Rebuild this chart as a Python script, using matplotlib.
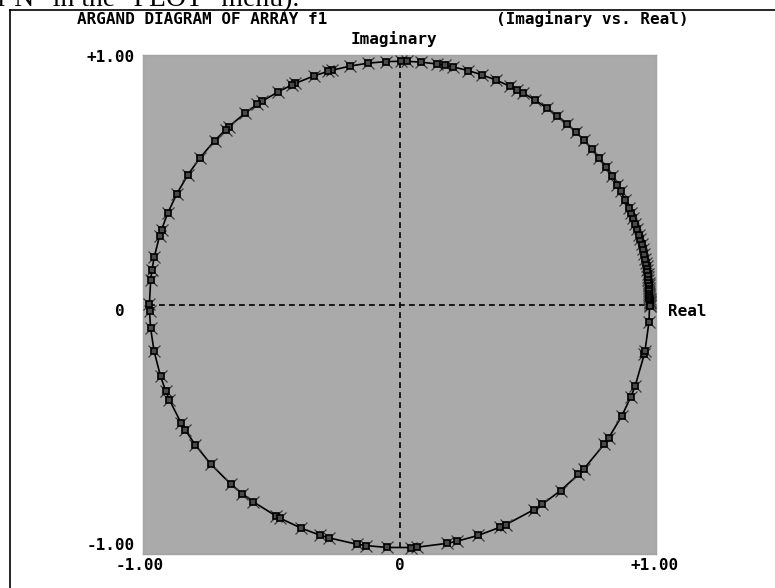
import numpy as np
import matplotlib
matplotlib.use("Agg")
import matplotlib.pyplot as plt
from matplotlib.lines import Line2D

# ---- data: phase (degrees) of each element of f1 ----
phase_deg = [0.0, 0.3, 0.6, 0.9, 1.2, 1.6, 2.0, 2.4, 2.9, 3.4, 3.9, 4.5, 5.1,
             5.8, 6.5, 7.3, 8.1, 9.0, 9.9, 10.9, 11.9, 13.1, 14.3, 15.5, 16.7,
             18.0, 19.4, 20.9, 22.1, 23.4, 25.4, 27.7, 29.4, 31.8, 34.4, 36.9,
             39.8, 42.5, 45.2, 48.0, 50.9, 53.9, 57.2, 60.4, 62.1, 63.7, 67.2,
             70.8, 74.0, 77.7, 79.5, 81.3, 85.1, 88.2, 89.6, 93.1, 97.2, 101.4,
             105.7, 106.7, 110.1, 114.7, 115.5, 119.0, 123.4, 124.6, 128.2,
             133.0, 134.0, 137.7, 143.0, 147.8, 152.9, 158.0, 162.1, 163.6,
             168.8, 171.8, 174.3, 180.0, 181.6, 185.5, 191.0, 197.2, 200.8,
             203.0, 209.1, 211.1, 215.3, 221.1, 227.6, 231.1, 234.1, 240.5,
             241.4, 246.9, 251.5, 253.6, 260.1, 262.3, 267.2, 272.6, 274.1,
             280.9, 283.3, 288.4, 293.7, 295.2, 302.5, 304.8, 310.1, 315.7,
             317.6, 325.0, 326.8, 332.7, 337.7, 340.4, 348.2, 349.0, 355.8,
             359.6]
magnitude = 0.975

title_left = "ARGAND DIAGRAM OF ARRAY f1"
title_right = "(Imaginary vs. Real)"
y_axis_name = "Imaginary"
x_axis_name = "Real"
x_tick_labels = ["-1.00", "0", "+1.00"]
y_tick_labels = ["-1.00", "0", "+1.00"]
doc_text = 'r N" in the "PLOT" menu).'

f1 = magnitude * np.exp(1j * np.deg2rad(np.array(phase_deg)))
real = f1.real
imag = f1.imag

W, H = 775, 588
fig = plt.figure(figsize=(W / 100, H / 100), dpi=100)
fig.patch.set_facecolor("white")

def fx(px):
    return px / W

def fy(py):
    return 1 - py / H

# axes area (gray box)
ax = fig.add_axes([fx(143), fy(554), (656 - 143) / W, (554 - 55) / H])
ax.set_facecolor("#aaaaaa")
ax.set_xlim(-1, 1)
ax.set_ylim(-1, 1)
ax.set_xticks([])
ax.set_yticks([])
for s in ax.spines.values():
    s.set_color("#a2a2a2")
    s.set_linewidth(1.0)

# dashed axes through the origin, spanning the data range
ax.plot([real.min(), real.max()], [0, 0], color="black", lw=1.2,
        linestyle=(0, (3.5, 2.5)), zorder=2)
ax.plot([0, 0], [imag.min(), imag.max()], color="black", lw=1.2,
        linestyle=(0, (3.5, 2.5)), zorder=2)

# the curve with markers
ax.plot(real, imag, "-", color="black", lw=1.2, zorder=3)
ax.plot(real, imag, "x", ms=9, mew=0.9, color="#3a3a3a", zorder=4)
ax.plot(real, imag, "s", ms=5, mfc="#4a4a4a", mec="black", mew=1.2, zorder=5)

mono = dict(family="DejaVu Sans Mono", fontweight="bold", fontsize=11.5,
            color="black")

fig.text(fx(77), fy(19), title_left, ha="left", va="center", **mono)
fig.text(fx(496), fy(19), title_right, ha="left", va="center", **mono)
fig.text(fx(394), fy(39), y_axis_name, ha="center", va="center", **mono)
fig.text(fx(668), fy(311), x_axis_name, ha="left", va="center", **mono)

# y tick labels (left)
fig.text(fx(135), fy(546), y_tick_labels[0], ha="right", va="center", **mono)
fig.text(fx(125), fy(311), y_tick_labels[1], ha="right", va="center", **mono)
fig.text(fx(135), fy(57), y_tick_labels[2], ha="right", va="center", **mono)
# x tick labels (bottom)
fig.text(fx(140), fy(565), x_tick_labels[0], ha="center", va="center", **mono)
fig.text(fx(400), fy(565), x_tick_labels[1], ha="center", va="center", **mono)
fig.text(fx(655), fy(565), x_tick_labels[2], ha="center", va="center", **mono)

# outer frame (extends past the right and bottom edges)
fig.add_artist(Line2D([fx(9.5), fx(9.5)], [fy(9.5), fy(600)], color="black",
                      lw=1.2, transform=fig.transFigure))
fig.add_artist(Line2D([fx(9.5), fx(800)], [fy(9.5), fy(9.5)], color="black",
                      lw=1.2, transform=fig.transFigure))

# clipped line of document text at the very top
fig.text(fx(-2), fy(6.5), doc_text, ha="left", va="baseline",
         family="Liberation Serif", fontsize=20, color="black")

fig.savefig("out.png", dpi=100, facecolor="white")
